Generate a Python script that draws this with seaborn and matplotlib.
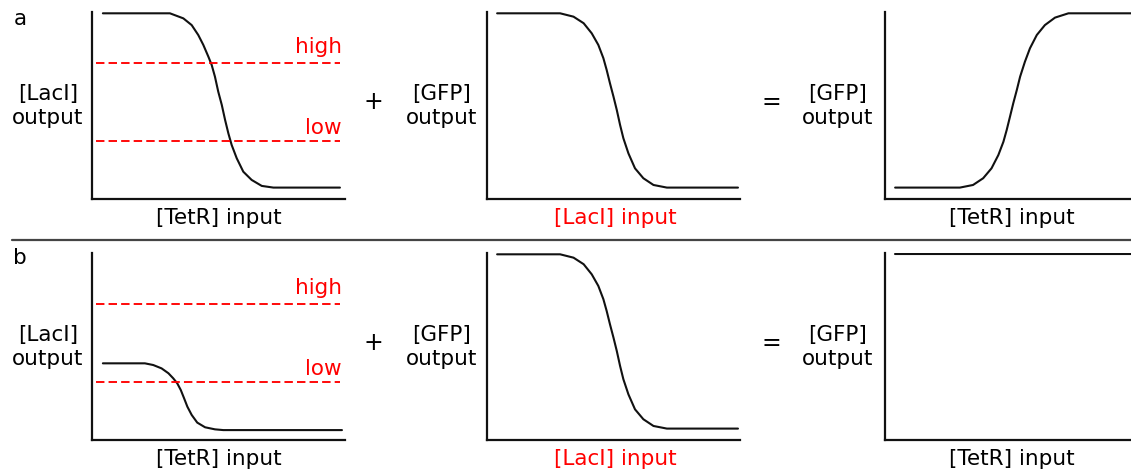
import numpy as np
import matplotlib
matplotlib.use("Agg")
import matplotlib.pyplot as plt
import seaborn as sns

# =========================================================
# DATA (axes units 0..10)
# =========================================================

# row a, panel 1: [LacI] output vs [TetR] input
a1_x = [0.43, 2.29, 3.08, 3.61, 3.94, 4.20, 4.40, 4.60, 4.73, 4.86, 4.99, 5.13, 5.26,
        5.39, 5.52, 5.72, 5.98, 6.31, 6.71, 7.17, 7.83, 9.80]
a1_y = [9.93, 9.93, 9.93, 9.66, 9.30, 8.77, 8.24, 7.61, 7.17, 6.54, 5.74, 5.03, 4.23,
        3.51, 2.89, 2.18, 1.46, 1.02, 0.70, 0.61, 0.61, 0.61]

# panel 2 (both rows): [GFP] output vs [LacI] input
gfp_x = [0.40, 2.09, 2.89, 3.42, 3.82, 4.14, 4.40, 4.60, 4.73, 4.86, 5.00, 5.13, 5.26,
         5.39, 5.59, 5.85, 6.18, 6.58, 7.11, 8.04, 9.92]
gfp_y = [9.93, 9.93, 9.93, 9.75, 9.40, 8.86, 8.24, 7.53, 6.90, 6.19, 5.47, 4.76, 3.96,
         3.25, 2.44, 1.64, 1.11, 0.75, 0.61, 0.61, 0.61]

# row a, panel 3: [GFP] output vs [TetR] input
a3_x = [0.40, 2.17, 2.96, 3.48, 3.88, 4.21, 4.48, 4.68, 4.81, 4.94, 5.07, 5.21, 5.34,
        5.53, 5.73, 6.00, 6.32, 6.72, 7.25, 8.10, 10.0]
a3_y = [0.61, 0.61, 0.61, 0.75, 1.11, 1.64, 2.35, 3.06, 3.69, 4.40, 5.12, 5.83, 6.54,
        7.34, 8.06, 8.77, 9.30, 9.70, 9.93, 9.93, 9.93]

# row b, panel 1: weak LacI response
b1_x = [0.43, 1.11, 2.09, 2.42, 2.75, 3.02, 3.21, 3.37, 3.51, 3.64, 3.77, 3.94, 4.16,
        4.47, 4.86, 5.19, 5.85, 9.88]
b1_y = [4.10, 4.10, 4.10, 4.01, 3.83, 3.57, 3.30, 3.03, 2.67, 2.23, 1.78, 1.34, 0.93,
        0.68, 0.57, 0.53, 0.53, 0.53]

# row b, panel 3: GFP stays high
b3_x = [0.40, 10.0]
b3_y = [9.95, 9.95]

# thresholds
high_level = 7.25
low_level = 3.08
thr_x = [0.16, 9.80]

# =========================================================
# FIGURE SETUP
# =========================================================

sns.set_style("white")
plt.rcParams["font.family"] = ["DejaVu Sans"]
plt.rcParams["text.color"] = "black"

W, H = 1131, 473
fig = plt.figure(figsize=(W / 100, H / 100), dpi=100)

RED = "#ff0000"
FS = 15.5


def px_axes(left, top, right, bottom):
    return fig.add_axes([left / W, (H - bottom) / H, (right - left) / W, (bottom - top) / H])


def px_text(x, y, s, size=FS, **kw):
    fig.text(x / W, (H - y) / H, s, fontsize=size, **kw)


def style_ax(ax):
    ax.set_xlim(0, 10)
    ax.set_ylim(0, 10)
    ax.set_xticks([])
    ax.set_yticks([])
    ax.set_xlabel("")
    ax.set_ylabel("")
    sns.despine(ax=ax)
    for s in ["left", "bottom"]:
        ax.spines[s].set_linewidth(1.6)
        ax.spines[s].set_color("#111111")
    ax.patch.set_alpha(0)


rows = [(12, 199), (253, 440)]
curves = [
    [(a1_x, a1_y), (gfp_x, gfp_y), (a3_x, a3_y)],
    [(b1_x, b1_y), (gfp_x, gfp_y), (b3_x, b3_y)],
]
lefts = [92, 487, 885]

for r, (top, bottom) in enumerate(rows):
    for c, left in enumerate(lefts):
        ax = px_axes(left, top, left + 253, bottom)
        cx, cy = curves[r][c]
        sns.lineplot(x=cx, y=cy, ax=ax, color="#111111", linewidth=1.5,
                     sort=False, estimator=None)
        if c == 0:
            ax.hlines([high_level, low_level], thr_x[0], thr_x[1], colors=RED,
                      linestyles=(0, (4.5, 2.2)), linewidth=1.35)
        style_ax(ax)

    off = top - 12
    # left labels
    px_text(48, 106 + off, "[LacI]\noutput", ha="center", va="center", linespacing=1.2)
    px_text(442, 106 + off, "[GFP]\noutput", ha="center", va="center", linespacing=1.2)
    px_text(838, 106 + off, "[GFP]\noutput", ha="center", va="center", linespacing=1.2)
    # operators
    px_text(373, 102 + off, "+", size=17, ha="center", va="center")
    px_text(771, 102 + off, "=", size=17, ha="center", va="center")
    # x labels
    px_text(219, 218 + off, "[TetR] input", ha="center", va="center")
    px_text(615, 218 + off, "[LacI] input", ha="center", va="center", color=RED)
    px_text(1012, 218 + off, "[TetR] input", ha="center", va="center")
    # threshold labels
    px_text(342, 47 + off, "high", ha="right", va="center", color=RED)
    px_text(342, 128 + off, "low", ha="right", va="center", color=RED)

px_text(20, 19, "a", ha="center", va="center")
px_text(20, 258, "b", ha="center", va="center")

# separator between rows
fig.add_artist(plt.Line2D([12 / W, 1.0], [(H - 240) / H] * 2, color="#444444", linewidth=1.6))

plt.savefig("out.png", dpi=100)
